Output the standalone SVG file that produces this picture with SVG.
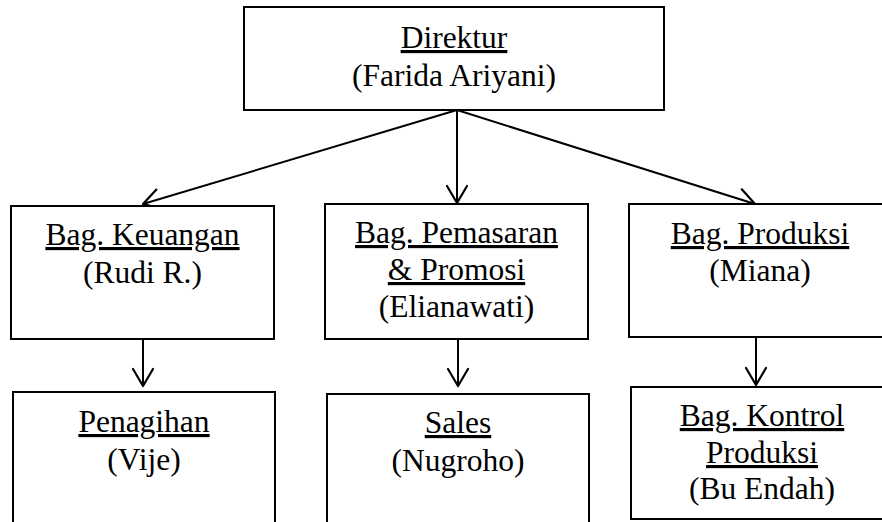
<svg xmlns="http://www.w3.org/2000/svg" width="882" height="522" viewBox="0 0 882 522">
  <style>
    .box { fill: #ffffff; stroke: #000000; stroke-width: 2; }
    .lbl { font-size: 31.5px; fill: #000000; text-anchor: middle; }
    .u { text-decoration: underline; }
    .conn { stroke: #000000; stroke-width: 2; fill: none; marker-end: url(#arr); }
  </style>
  <defs>
    <marker id="arr" markerUnits="userSpaceOnUse" markerWidth="40" markerHeight="40" viewBox="-20 -20 40 40" refX="0" refY="0" orient="auto" overflow="visible">
      <path d="M-17,-10 L0,0 L-17,10" fill="none" stroke="#000000" stroke-width="2.2" stroke-linejoin="round" stroke-linecap="round"/>
    </marker>
  </defs>
  <rect width="882" height="522" fill="#ffffff"/>

  <g id="connectors">
    <line class="conn" x1="457" y1="110" x2="143" y2="204"/>
    <line class="conn" x1="457" y1="110" x2="457" y2="203"/>
    <line class="conn" x1="457" y1="110" x2="755" y2="204"/>
    <line class="conn" x1="143" y1="339" x2="143" y2="386"/>
    <line class="conn" x1="458" y1="339" x2="458" y2="386"/>
    <line class="conn" x1="756" y1="338" x2="756" y2="385"/>
  </g>

  <g font-family="'Liberation Serif', 'DejaVu Serif', serif">
  <g id="direktur">
    <rect class="box" x="244" y="7" width="420" height="103"/>
    <text class="lbl u" x="454" y="48">Direktur</text>
    <text class="lbl" x="454" y="86">(Farida Ariyani)</text>
  </g>

  <g id="keuangan">
    <rect class="box" x="11" y="206" width="263" height="133"/>
    <text class="lbl u" x="142.5" y="245">Bag. Keuangan</text>
    <text class="lbl" x="142.5" y="283">(Rudi R.)</text>
  </g>

  <g id="pemasaran">
    <rect class="box" x="325" y="204" width="263" height="135"/>
    <text class="lbl u" x="456.5" y="243">Bag. Pemasaran</text>
    <text class="lbl u" x="456.5" y="280">&amp; Promosi</text>
    <text class="lbl" x="456.5" y="317">(Elianawati)</text>
  </g>

  <g id="produksi">
    <rect class="box" x="629" y="204" width="262" height="133"/>
    <text class="lbl u" x="760" y="244">Bag. Produksi</text>
    <text class="lbl" x="760" y="281">(Miana)</text>
  </g>

  <g id="penagihan">
    <rect class="box" x="13" y="392" width="262" height="140"/>
    <text class="lbl u" x="144" y="432">Penagihan</text>
    <text class="lbl" x="144" y="470">(Vije)</text>
  </g>

  <g id="sales">
    <rect class="box" x="327" y="394" width="262" height="140"/>
    <text class="lbl u" x="458" y="433">Sales</text>
    <text class="lbl" x="458" y="471">(Nugroho)</text>
  </g>

  <g id="kontrol">
    <rect class="box" x="631" y="387" width="261" height="132"/>
    <text class="lbl u" x="762" y="426">Bag. Kontrol</text>
    <text class="lbl u" x="762" y="463">Produksi</text>
    <text class="lbl" x="762" y="499">(Bu Endah)</text>
  </g>
  </g>
</svg>
